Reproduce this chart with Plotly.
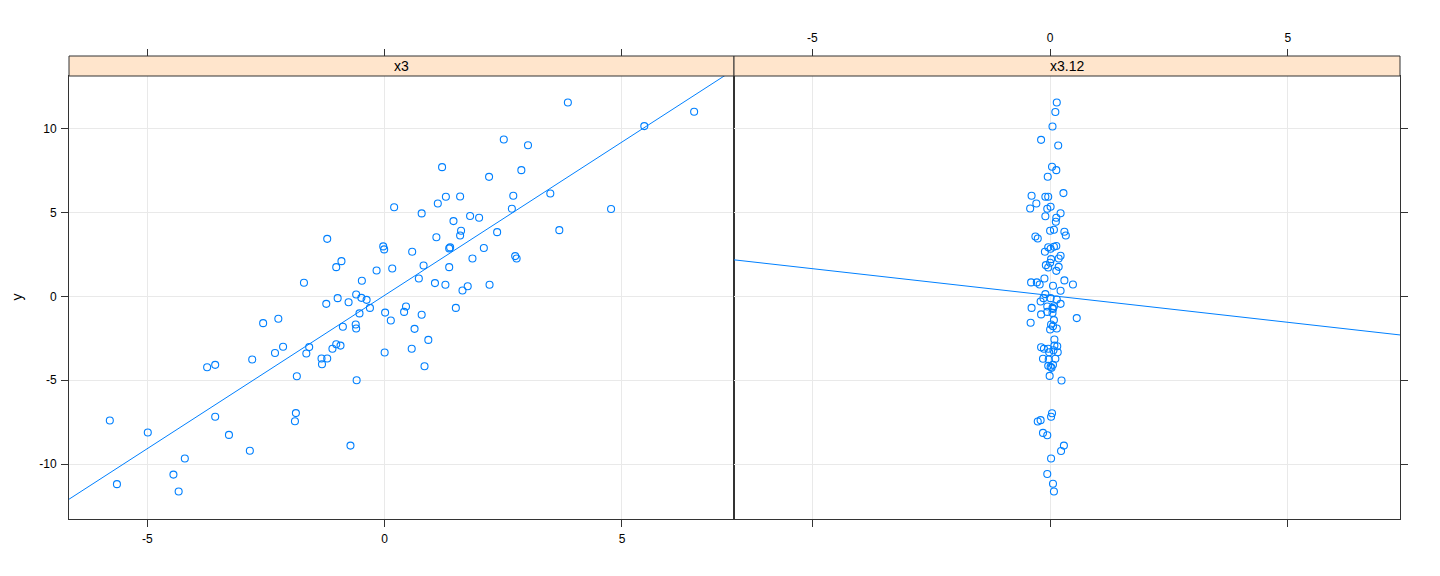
import plotly.graph_objects as go

# ---- data ----
x3 = [-5.79, -5.64, -4.99, -4.45, -4.34, -4.21, -3.74, -3.57, -3.57, -3.28,
      -2.84, -2.79, -2.56, -2.24, -2.31, -2.14, -1.85, -1.87, -1.89, -1.70,
      -1.59, -1.65, -1.33, -1.21, -1.32, -1.23, -1.21, -1.02, -0.91, -0.99,
      -1.02, -0.93, -1.10, -0.88, -0.76, -0.72, -0.61, -0.60, -0.60, -0.59,
      -0.53, -0.49, -0.48, -0.38, -0.31, -0.17, -0.03, -0.01, 0.01, 0.00,
      0.13, 0.16, 0.20, 0.41, 0.45, 0.57, 0.58, 0.63, 0.72, 0.78,
      0.78, 0.82, 0.84, 0.92, 1.06, 1.09, 1.12, 1.21, 1.28, 1.29,
      1.36, 1.36, 1.38, 1.45, 1.50, 1.59, 1.59, 1.61, 1.64, 1.75,
      1.80, 1.85, 1.99, 2.09, 2.20, 2.21, 2.37, 2.51, 2.68, 2.71,
      2.75, 2.78, 2.88, 3.02, 3.49, 3.68, 3.86, 4.77, 5.47, 6.52]
y_x3 = [-7.40, -11.20, -8.12, -10.63, -11.64, -9.67, -4.22, -4.08, -7.18, -8.26,
        -9.21, -3.76, -1.59, -1.33, -3.37, -3.00, -4.76, -6.96, -7.45, 0.82,
        -3.02, -3.40, -3.70, -3.70, -4.04, -0.44, 3.44, 1.75, 2.11, -0.10,
        -2.85, -2.93, -3.12, -1.81, -0.34, -8.90, -1.67, -1.91, 0.12, -5.00,
        -1.01, -0.08, 0.94, -0.20, -0.68, 1.55, 2.99, 2.81, -0.96, -3.34,
        -1.43, 1.67, 5.33, -0.92, -0.60, -3.12, 2.67, -1.93, 1.07, 4.96,
        -1.09, 1.85, -4.16, -2.59, 0.80, 3.54, 5.55, 7.72, 0.70, 5.95,
        1.75, 2.87, 2.93, 4.50, -0.68, 5.97, 3.64, 3.92, 0.36, 0.61,
        4.80, 2.27, 4.70, 2.89, 7.14, 0.70, 3.84, 9.37, 5.24, 6.01,
        2.41, 2.27, 7.54, 9.03, 6.15, 3.96, 11.58, 5.22, 10.17, 11.03]

x3_12 = [0.14, 0.11, 0.05, -0.19, 0.17, 0.04, 0.13, -0.05, -0.39, -0.10,
         -0.04, 0.28, -0.29, -0.42, -0.06, 0.01, -0.10, 0.22, 0.13, 0.12,
         0.00, 0.08, 0.30, 0.33, -0.31, -0.26, -0.04, 0.01, 0.08, 0.13,
         -0.11, 0.22, 0.18, 0.02, 0.00, -0.09, -0.04, 0.18, 0.13, -0.12,
         -0.40, -0.28, -0.22, 0.06, 0.30, 0.48, 0.22, -0.10, -0.20, -0.14,
         0.01, 0.14, 0.22, -0.39, -0.06, 0.05, -0.19, -0.06, 0.05, 0.06,
         0.08, -0.41, 0.56, 0.08, 0.02, 0.06, 0.14, 0.00, 0.09, 0.09,
         0.15, -0.19, -0.13, -0.04, -0.02, 0.16, 0.07, -0.15, -0.03, 0.11,
         -0.04, 0.01, 0.06, 0.03, -0.01, 0.24, 0.04, 0.02, -0.26, -0.20,
         -0.15, -0.06, 0.29, 0.23, 0.02, -0.06, 0.06, 0.08]
y_x3_12 = [11.58, 11.01, 10.15, 9.35, 9.01, 7.74, 7.54, 7.15, 6.01, 5.95,
           5.95, 6.17, 5.55, 5.25, 5.24, 5.36, 4.79, 4.97, 4.70, 4.46,
           3.92, 3.98, 3.86, 3.64, 3.58, 3.46, 2.94, 2.85, 2.97, 3.01,
           2.67, 2.43, 2.27, 2.23, 2.01, 1.87, 1.73, 1.77, 1.53, 1.07,
           0.84, 0.84, 0.72, 0.64, 0.96, 0.72, 0.34, 0.14, -0.30, -0.10,
           -0.10, -0.18, -0.44, -0.68, -0.60, -0.68, -1.07, -0.92, -0.98, -0.74,
           -0.58, -1.57, -1.29, -1.41, -1.67, -1.77, -1.91, -1.97, -2.57, -2.93,
           -2.97, -3.03, -3.12, -3.12, -3.33, -3.33, -3.21, -3.72, -3.76, -3.72,
           -4.14, -4.20, -4.08, -4.26, -4.74, -5.01, -6.97, -7.18, -7.46, -7.38,
           -8.14, -8.28, -8.90, -9.22, -9.67, -10.59, -11.18, -11.64]

# regression lines (intercept, slope)
fit_x3 = [0.07, 1.83]
fit_x3_12 = [0.06, -0.32]

panels = ["x3", "x3.12"]
x_ticks = [-5, 0, 5]
y_ticks = [-10, -5, 0, 5, 10]
x_range = [-6.65, 7.36]
y_range = [-13.28, 13.16]

# ---- layout helpers (page has an 8px body margin) ----
W, H = 1440, 576
OFF = 8
def PX(p):
    return (p - OFF) / W
def PY(p):
    return 1 - (p - OFF) / H

BLUE = "#0080ff"
DARK = "#333333"
GRID = "#e9e9e9"
FONT = "Liberation Sans"

L0, L1, R1 = 69, 734, 1400
TOP, BOT, STRIP_TOP = 76, 519, 56

fig = go.Figure()

marker = dict(symbol="circle-open", size=7, color=BLUE, line=dict(width=1.1, color=BLUE))
fig.add_trace(go.Scatter(x=x3, y=y_x3, mode="markers", marker=marker,
                         xaxis="x", yaxis="y", showlegend=False))
fig.add_trace(go.Scatter(x=x3_12, y=y_x3_12, mode="markers", marker=marker,
                         xaxis="x2", yaxis="y2", showlegend=False))

for fit, xa, ya in [(fit_x3, "x", "y"), (fit_x3_12, "x2", "y2")]:
    xs = [x_range[0], x_range[1]]
    ys = [fit[0] + fit[1] * v for v in xs]
    fig.add_trace(go.Scatter(x=xs, y=ys, mode="lines", line=dict(color=BLUE, width=1),
                             xaxis=xa, yaxis=ya, showlegend=False, hoverinfo="skip"))

# invisible traces to activate the top tick axes
fig.add_trace(go.Scatter(x=[0], y=[0], mode="markers", marker=dict(opacity=0),
                         xaxis="x3", yaxis="y", showlegend=False, hoverinfo="skip"))
fig.add_trace(go.Scatter(x=[0], y=[0], mode="markers", marker=dict(opacity=0),
                         xaxis="x4", yaxis="y2", showlegend=False, hoverinfo="skip"))

tickfont = dict(family=FONT, size=12, color="black")
common_x = dict(range=x_range, tickvals=x_ticks, ticktext=[str(v) for v in x_ticks],
                ticks="outside", ticklen=7, tickcolor=DARK, tickwidth=1,
                zeroline=False, tickfont=tickfont, fixedrange=True,
                ticklabelstandoff=2)
common_y = dict(range=y_range, tickvals=y_ticks, ticktext=[str(v) for v in y_ticks],
                ticks="outside", ticklen=7, tickcolor=DARK, tickwidth=1,
                zeroline=False, tickfont=tickfont, fixedrange=True,
                showgrid=True, gridcolor=GRID, gridwidth=1,
                showline=True, mirror=True, linecolor=DARK, linewidth=1,
                ticklabelstandoff=2,
                domain=[PY(BOT), PY(TOP)])

fig.update_layout(
    width=W, height=H, autosize=False,
    margin=dict(l=0, r=0, t=0, b=0),
    paper_bgcolor="white", plot_bgcolor="white",
    font=dict(family=FONT, size=12, color="black"),
    xaxis=dict(**common_x, domain=[PX(L0), PX(L1)], anchor="y", side="bottom",
               showgrid=True, gridcolor=GRID, showline=True, mirror=True,
               linecolor=DARK, linewidth=1),
    xaxis2=dict(**common_x, domain=[PX(L1), PX(R1)], anchor="y2", side="bottom",
                showticklabels=False, showgrid=True, gridcolor=GRID, showline=True,
                mirror=True, linecolor=DARK, linewidth=1),
    xaxis3=dict(**common_x, overlaying="x", anchor="free", position=PY(STRIP_TOP),
                side="top", showticklabels=False, showgrid=False, showline=False),
    xaxis4=dict(**common_x, overlaying="x2", anchor="free", position=PY(STRIP_TOP),
                side="top", showticklabels=True, showgrid=False, showline=False),
    yaxis=dict(**common_y, anchor="x", side="left"),
    yaxis2=dict(**common_y, anchor="x2", side="right", showticklabels=False),
)

# strips
for name, a, b in [(panels[0], L0, L1), (panels[1], L1, R1)]:
    fig.add_shape(type="rect", xref="paper", yref="paper",
                  x0=PX(a), x1=PX(b), y0=PY(TOP), y1=PY(STRIP_TOP),
                  fillcolor="#ffe5cc", line=dict(color=DARK, width=1), layer="above")
    fig.add_annotation(x=PX((a + b) / 2), y=PY((TOP + STRIP_TOP) / 2),
                       xref="paper", yref="paper", text=name, showarrow=False,
                       font=dict(family=FONT, size=14, color="black"),
                       xanchor="center", yanchor="middle")

# y axis title
fig.add_annotation(x=PX(16), y=PY((TOP + BOT) / 2), xref="paper", yref="paper",
                   text="y", showarrow=False, textangle=-90,
                   font=dict(family=FONT, size=14, color="black"),
                   xanchor="center", yanchor="middle")

fig.write_html("out.html")
